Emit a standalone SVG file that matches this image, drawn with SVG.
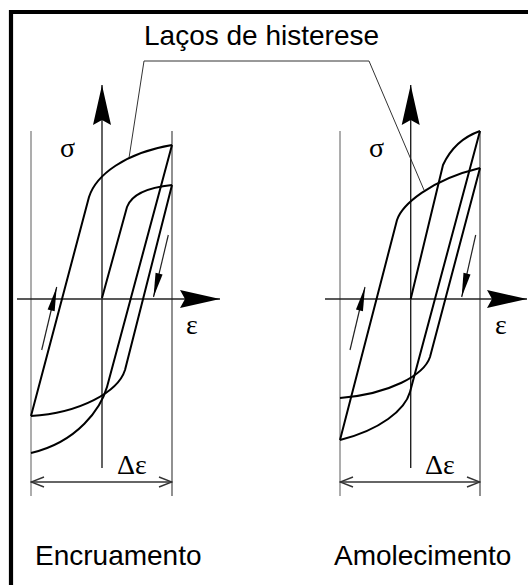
<svg xmlns="http://www.w3.org/2000/svg" width="528" height="585" viewBox="0 0 528 585">
<style>
.lbl{font-family:"Liberation Sans",Arial,sans-serif;font-size:28px;fill:#000}
.gr{font-family:"Liberation Serif","Times New Roman",serif;font-size:28px;fill:#000}
.curve{fill:none;stroke:#000;stroke-width:2;stroke-linejoin:round}
.axis{stroke:#222;stroke-width:1.4;fill:none}
.vl{stroke:#999;stroke-width:1.6}
.vr{stroke:#555;stroke-width:1.3}
.dim{stroke:#333;stroke-width:1.3;fill:none}
.lead{stroke:#333;stroke-width:1;fill:none}
.sa{stroke:#222;stroke-width:1.2;fill:none}
</style>
<defs>
<marker id="big" viewBox="-41 -11 42 22" refX="0" refY="0" markerWidth="42" markerHeight="22" markerUnits="userSpaceOnUse" orient="auto">
<path d="M0,0 L-40,-9 L-35,0 L-40,9 Z" fill="#000"/>
</marker>
<marker id="small" viewBox="-25 -5 26 10" refX="0" refY="0" markerWidth="26" markerHeight="10" markerUnits="userSpaceOnUse" orient="auto">
<path d="M0,0 L-24,-3.6 L-24,3.6 Z" fill="#000"/>
</marker>
<marker id="chev" viewBox="-15 -7 16 14" refX="0" refY="0" markerWidth="16" markerHeight="14" markerUnits="userSpaceOnUse" orient="auto-start-reverse">
<path d="M-13,-5 L0,0 L-13,5" fill="none" stroke="#333" stroke-width="1.4"/>
</marker>
</defs>
<g id="frame">
<path d="M11,585 L11,12 L528,12" fill="none" stroke="#000" stroke-width="4.2"/>
</g>
<g id="title">
<text class="lbl" x="144" y="45">Laços de histerese</text>
</g>
<g id="connectors">
<path class="lead" d="M129,158 L144,61 L369,61 L424,190"/>
</g>
<g id="encruamento">
<line class="vl" x1="31" y1="131" x2="31" y2="496"/>
<line class="vr" x1="172" y1="131" x2="172" y2="496"/>
<line class="axis" x1="102" y1="468" x2="102" y2="85" marker-end="url(#big)"/>
<line class="axis" x1="17" y1="299" x2="220" y2="299" marker-end="url(#big)"/>
<path class="curve" d="M102,298 L127,207 C131,196 143,188 172,185"/>
<path class="curve" d="M172,185 L125,370 C118,392 80,413 31,416"/>
<path class="curve" d="M31,416 L89,197 C96,175 125,153 172,145"/>
<path class="curve" d="M172,145 L107,387 C101,408 78,442 31,453"/>
<line class="sa" x1="41.7" y1="350" x2="56.7" y2="287" marker-end="url(#small)"/>
<line class="sa" x1="168.3" y1="235" x2="153.5" y2="297" marker-end="url(#small)"/>
<line class="dim" x1="31" y1="482" x2="172" y2="482" marker-start="url(#chev)" marker-end="url(#chev)"/>
<text class="gr" x="60" y="157">σ</text>
<text class="gr" x="186" y="334">ε</text>
<text class="gr" x="117" y="474">Δε</text>
<text class="lbl" x="35" y="565">Encruamento</text>
</g>
<g id="amolecimento">
<line class="vl" x1="340" y1="131" x2="340" y2="496"/>
<line class="vr" x1="480" y1="131" x2="480" y2="496"/>
<line class="axis" x1="410.7" y1="468" x2="410.7" y2="85" marker-end="url(#big)"/>
<line class="axis" x1="325" y1="299" x2="527" y2="299" marker-end="url(#big)"/>
<path class="curve" d="M410.7,299 L443,165 C449,152 460,138 480,131"/>
<path class="curve" d="M480,131 L410,392 C405,410 380,430 340,440"/>
<path class="curve" d="M340,440 L397,220 C402,205 430,180 480,168"/>
<path class="curve" d="M480,168 L430,357 C424,375 390,394 340,398"/>
<line class="sa" x1="350" y1="350" x2="365" y2="287" marker-end="url(#small)"/>
<line class="sa" x1="475.7" y1="235" x2="461.7" y2="297" marker-end="url(#small)"/>
<line class="dim" x1="340" y1="482" x2="480" y2="482" marker-start="url(#chev)" marker-end="url(#chev)"/>
<text class="gr" x="369" y="157">σ</text>
<text class="gr" x="495" y="334">ε</text>
<text class="gr" x="425" y="474">Δε</text>
<text class="lbl" x="334" y="565">Amolecimento</text>
</g>
</svg>
